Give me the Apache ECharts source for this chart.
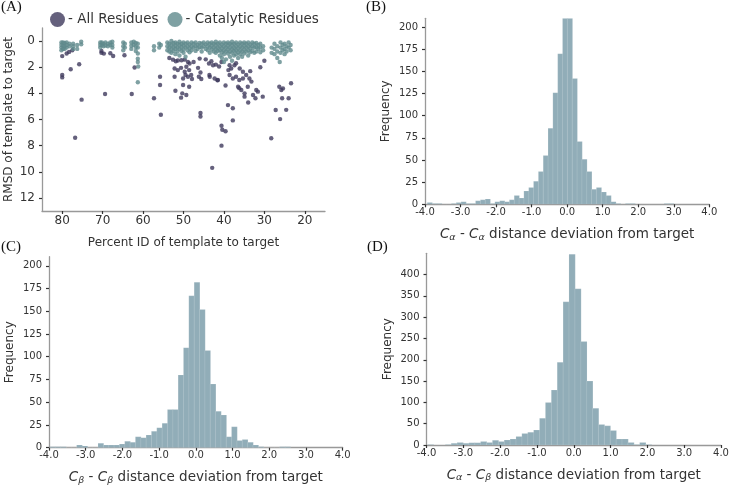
<!DOCTYPE html>
<html><head><meta charset="utf-8">
<script src="https://cdn.jsdelivr.net/npm/echarts@6/dist/echarts.min.js"></script>
<style>html,body{margin:0;padding:0;background:#fff}#c{width:729px;height:487px}</style>
</head><body><div id="c"></div>
<script>
// ---------- Panel A data: [percent ID, RMSD] ----------
const allResidues = [
[80.0,1.15],[78.9,0.95],[78.3,0.83],[77.5,0.7],[80.0,2.6],[80.0,2.78],[77.9,2.15],[75.8,1.77],[75.2,4.48],[76.8,7.4],
[70.3,0.75],[70.3,0.9],[69.7,0.96],[68.1,0.93],[67.4,1.14],[69.4,4.05],
[64.6,1.09],[62.8,4.05],[62.1,2.02],
[57.3,4.38],[55.8,2.73],[55.8,3.36],[55.6,5.64],
[52.6,1.42],[51.9,1.54],[51.4,1.49],[50.5,1.47],[49.7,1.42],[48.9,1.6],[48.5,1.72],
[52.2,2.1],[51.4,2.22],[50.6,2.05],[49.7,2.35],[49.3,1.97],[48.6,2.22],
[52.2,2.73],[50.1,2.86],[49.5,2.6],[48.9,2.73],[48.1,2.6],[47.9,2.9],
[52.0,3.8],[50.1,3.36],[48.6,3.49],[50.3,4.0],[49.3,4.12],[50.6,4.33],
[46.4,2.05],[46.2,2.73],[46.0,1.34],[45.8,2.4],[45.6,2.9],
[45.8,5.5],[45.8,5.77],
[43.7,1.72],[43.1,1.54],[42.7,1.85],[43.5,2.73],[42.3,2.86],[41.5,2.98],[40.6,1.6],[39.6,3.4],[43.6,2.6],[41.6,3.0],[42.0,1.8],[41.2,1.95],
[38.2,2.1],[37.4,1.85],[36.1,2.1],[35.3,2.35],[38.6,2.6],[37.8,2.86],[37.0,2.73],[36.2,2.98],[35.3,2.86],[34.5,2.6],[33.7,2.86],[33.2,3.1],
[36.5,3.49],[35.7,3.74],[34.9,4.0],[34.1,3.49],[32.8,4.12],[32.2,4.38],[31.6,3.87],[30.4,4.25],[34.0,4.7],[38.9,2.22],[36.2,3.6],[32.0,3.74],[34.9,4.25],[38.6,1.85],[37.0,1.7],[33.5,2.3],
[39.0,4.9],[37.8,5.14],[37.8,6.07],[40.6,6.48],[40.4,6.78],[39.6,6.9],[40.6,8.0],[42.9,9.7],
[28.3,7.44],[27.2,5.27],[26.1,5.97],[24.6,5.26],
[26.3,3.49],[25.8,3.74],[25.4,3.62],[25.6,4.38],[24.0,4.38],[23.4,3.23],
[53.5,1.3],[47.5,1.6],[44.5,1.4],[31.0,2.0],[30.0,1.5]
];
const catalyticResidues = [
[80.2,0.1],[80.2,0.3],[80.2,0.5],[80.2,0.7],[79.8,0.1],[79.8,0.35],[79.8,0.6],[79.4,0.15],[79.4,0.4],[79.4,0.6],[78.9,0.1],[78.9,0.3],[78.9,0.5],[78.2,0.2],[78.2,0.4],[77.3,0.2],[77.3,0.4],[77.3,0.6],[76.3,0.3],[76.3,0.6],[75.3,0.05],[75.3,0.25],
[70.6,0.1],[70.6,0.3],[70.6,0.5],[70.2,0.1],[70.2,0.3],[69.8,0.2],[69.8,0.4],[69.3,0.1],[69.3,0.35],[68.7,0.2],[68.7,0.4],[68.1,0.1],[68.1,0.3],[67.6,0.05],[67.6,0.3],[67.6,0.5],
[64.9,0.1],[64.9,0.4],[64.9,0.7],[64.5,0.2],[64.5,0.5],
[62.9,0.1],[62.9,0.35],[62.9,0.6],[62.3,0.05],[62.3,0.3],[61.8,0.15],[61.8,0.45],[61.8,0.75],[61.3,0.2],[61.3,0.5],[61.3,0.95],[61.3,1.35],[61.3,1.6],[61.2,1.95],[61.3,3.15],
[57.3,0.4],[57.3,0.7],[56.0,0.2],[56.0,0.5],[55.6,0.3],
[54.0,0.1],[54.0,0.4],[54.0,0.7],[53.5,0.2],[53.5,0.5],[53.5,0.8],[53.0,0.0],[53.0,0.3],[53.0,0.6],[53.0,0.9],
[52.5,0.15],[52.5,0.45],[52.5,0.75],[52.0,0.1],[52.0,0.35],[52.0,0.6],[52.0,1.0],[51.5,0.2],[51.5,0.5],[51.5,0.8],
[51.0,0.05],[51.0,0.3],[51.0,0.6],[51.0,1.1],[50.5,0.2],[50.5,0.45],[50.5,0.75],[50.0,0.1],[50.0,0.35],[50.0,0.65],[50.0,0.9],
[49.5,0.2],[49.5,0.5],[49.5,1.2],[49.0,0.1],[49.0,0.4],[49.0,0.7],[48.5,0.25],[48.5,0.55],[48.5,0.85],[48.0,0.1],[48.0,0.4],[48.0,0.7],
[47.5,0.2],[47.5,0.5],[47.0,0.1],[47.0,0.4],[47.0,0.75],[46.5,0.3],[46.5,0.6],[46.0,0.15],[46.0,0.45],[45.5,0.2],[45.5,0.5],[45.5,0.8],
[45.0,0.1],[45.0,0.4],[44.5,0.25],[44.5,0.6],[44.0,0.1],[44.0,0.4],[44.0,0.7],[43.5,0.2],[43.5,0.5],[43.5,0.9],[43.0,0.1],[43.0,0.35],[43.0,0.65],
[42.5,0.2],[42.5,0.5],[42.5,0.8],[42.0,0.05],[42.0,0.3],[42.0,0.6],[42.0,0.9],[41.5,0.2],[41.5,0.5],[41.5,0.75],
[41.0,0.1],[41.0,0.4],[41.0,0.7],[41.0,1.1],[40.5,0.25],[40.5,0.55],[40.5,0.85],[40.5,1.3],[40.0,0.1],[40.0,0.4],[40.0,0.7],[40.0,1.0],[40.0,1.6],
[39.5,0.2],[39.5,0.5],[39.5,0.8],[39.5,1.4],[39.0,0.1],[39.0,0.35],[39.0,0.65],[39.0,0.95],[38.5,0.2],[38.5,0.5],[38.5,0.8],[38.5,1.2],
[38.0,0.05],[38.0,0.3],[38.0,0.6],[38.0,0.9],[38.0,1.5],[37.5,0.2],[37.5,0.5],[37.5,0.75],[37.5,1.1],[37.0,0.1],[37.0,0.4],[37.0,0.7],[37.0,1.0],
[36.5,0.25],[36.5,0.55],[36.5,0.85],[36.5,1.3],[36.0,0.1],[36.0,0.4],[36.0,0.7],[36.0,1.0],[35.5,0.2],[35.5,0.5],[35.5,0.8],[35.5,1.2],
[35.0,0.1],[35.0,0.35],[35.0,0.65],[35.0,0.95],[34.5,0.2],[34.5,0.5],[34.5,0.8],[34.0,0.1],[34.0,0.4],[34.0,0.7],[34.0,1.1],
[33.5,0.25],[33.5,0.55],[33.5,0.85],[33.0,0.1],[33.0,0.4],[33.0,0.75],[32.5,0.2],[32.5,0.5],[32.5,0.9],[32.0,0.15],[32.0,0.45],[32.0,0.8],
[31.5,0.3],[31.5,0.6],[31.0,0.2],[31.0,0.5],[31.0,0.85],[30.3,0.4],[30.3,0.7],
[28.2,0.5],[28.2,0.9],[27.5,0.2],[27.5,0.6],[27.5,1.0],[26.8,0.4],[26.8,0.8],[26.8,1.3],[26.0,0.1],[26.0,0.5],[26.0,0.9],[25.5,0.3],[25.5,0.7],
[25.0,0.2],[25.0,0.6],[25.0,1.0],[24.5,0.4],[24.5,0.8],[24.0,0.1],[24.0,0.5],[23.5,0.3],[23.5,0.7],[26.2,1.6]
];
const pidTicks = [80,70,60,50,40,30,20];
const rmsdTicks = [0,2,4,6,8,10,12];

// ---------- Histogram data ----------
const devTicks = [-4,-3,-2,-1,0,1,2,3,4];
const freqTicksBC = [0,25,50,75,100,125,150,175,200];
const freqTicksD = [0,50,100,150,200,250,300,350,400];

const binStartB = -3.938, binWidthB = 0.136;
const countsB = [2,1,1,0,0,1,2,3,1,1,4,5,6,1,3,4,3,5,10,7,15,19,26,37,55,86,126,170,210,210,142,71,51,37,17,19,14,10,3,1,0,1,1,0,0,0,0,0,0,1,1];

const binStartC = -3.975, binWidthC = 0.1455;
const countsC = [1,1,1,0,0,3,2,0,0,5,3,3,3,4,7,6,12,11,14,18,22,27,42,42,80,110,167,182,152,107,70,40,36,12,23,8,9,6,3,1,0,0,0,1,1];

const binStartD = -3.97, binWidthD = 0.16;
const countsD = [1,0,0,1,4,6,4,5,5,8,6,11,8,12,14,20,27,30,35,63,100,129,194,336,448,367,243,150,86,48,45,34,14,14,6,1,6,1];

const FONT = 'DejaVu Sans';
const TXT = '#333';
const AXC = '#999';

function histData(start, w, counts){
  return counts.map((c,i)=>[start + i*w, start + (i+1)*w, c]);
}
function histRender(params, api){
  const p0 = api.coord([api.value(0), api.value(2)]);
  const p1 = api.coord([api.value(1), 0]);
  return {type:'rect', shape:{x:p0[0], y:p0[1], width:p1[0]-p0[0]+0.4, height:p1[1]-p0[1]},
    style:{fill:'#91adb8', stroke:'rgba(255,255,255,0.25)', lineWidth:0.5}};
}
function axisBase(extra){
  return Object.assign({
    type:'value',
    splitLine:{show:false},
    axisLine:{show:true, onZero:false, lineStyle:{color:AXC, width:1.3}},
    axisTick:{show:true, length:3, lineStyle:{color:'#333', width:1.2}},
    axisLabel:{color:TXT, fontFamily:FONT, fontSize:10},
    nameTextStyle:{color:TXT, fontFamily:FONT, fontSize:13},
    nameLocation:'middle'
  }, extra);
}
const devName = (a,b) => '{c|C}{s|' + a + '} - {c|C}{s|' + b + '} distance deviation from target';
const richName = {
  c:{fontStyle:'italic', fontFamily:FONT, fontSize:13.5, color:TXT},
  s:{fontStyle:'italic', fontFamily:FONT, fontSize:9.5, color:TXT, padding:[6,0,0,0]}
};
function devX(gridIndex, name){
  return axisBase({gridIndex, min:-4, max:4, name,
    nameGap:22,
    nameTextStyle:{color:TXT, fontFamily:FONT, fontSize:13.5, rich:richName},
    axisTick:{show:true, length:3, lineStyle:{color:'#333', width:1.2}, customValues:devTicks},
    axisLabel:{color:TXT, fontFamily:FONT, fontSize:10, margin:3, customValues:devTicks, formatter:v=>v.toFixed(1)}});
}
function freqY(gridIndex, max, ticks){
  return axisBase({gridIndex, min:0, max, name:'Frequency', nameGap:33,
    nameTextStyle:{color:TXT, fontFamily:FONT, fontSize:12},
    axisTick:{show:true, length:3, lineStyle:{color:'#333', width:1.2}, customValues:ticks},
    axisLabel:{color:TXT, fontFamily:FONT, fontSize:10, margin:7, customValues:ticks}});
}

const chart = echarts.init(document.getElementById('c'), null, {renderer:'canvas'});
chart.setOption({
  animation:false,
  backgroundColor:'#fff',
  textStyle:{fontFamily:FONT},
  legend:{
    data:['- All Residues','- Catalytic Residues'],
    left:45, top:7, icon:'circle', itemWidth:15, itemHeight:15, itemGap:9,
    textStyle:{color:TXT, fontFamily:FONT, fontSize:13.5, padding:[0,0,0,-2]}
  },
  grid:[
    {left:42, top:28, width:283, height:183, containLabel:false, outerBoundsMode:'none'},
    {left:425, top:18.3, width:284.3, height:186, containLabel:false, outerBoundsMode:'none'},
    {left:49, top:256.7, width:293.7, height:191, containLabel:false, outerBoundsMode:'none'},
    {left:426.5, top:253.3, width:294.5, height:191.7, containLabel:false, outerBoundsMode:'none'}
  ],
  xAxis:[
    axisBase({gridIndex:0, min:15, max:85, inverse:true, name:'Percent ID of template to target', nameGap:26,
      nameTextStyle:{color:TXT, fontFamily:FONT, fontSize:12},
      axisTick:{show:true, length:3, lineStyle:{color:'#333', width:1.2}, customValues:pidTicks},
      axisLabel:{color:TXT, fontFamily:FONT, fontSize:12, margin:4, customValues:pidTicks}}),
    devX(1, devName('α','α')),
    devX(2, devName('β','β')),
    devX(3, devName('α','β'))
  ],
  yAxis:[
    axisBase({gridIndex:0, min:-1, max:13, inverse:true, name:'RMSD of template to target', nameGap:27,
      nameTextStyle:{color:TXT, fontFamily:FONT, fontSize:12},
      axisTick:{show:true, length:3, lineStyle:{color:'#333', width:1.2}, customValues:rmsdTicks},
      axisLabel:{color:TXT, fontFamily:FONT, fontSize:12, margin:7, customValues:rmsdTicks}}),
    freqY(1, 210, freqTicksBC),
    freqY(2, 210, freqTicksBC),
    freqY(3, 450, freqTicksD)
  ],
  series:[
    {name:'- All Residues', type:'scatter', xAxisIndex:0, yAxisIndex:0, data:allResidues,
      symbol:'circle', symbolSize:4.4, itemStyle:{color:'#3f3a5c'}},
    {name:'- Catalytic Residues', type:'scatter', xAxisIndex:0, yAxisIndex:0, data:catalyticResidues,
      symbol:'circle', symbolSize:4.4, itemStyle:{color:'#5f8a8c'}},
    {type:'custom', xAxisIndex:1, yAxisIndex:1, renderItem:histRender, clip:true,
      encode:{x:[0,1], y:2}, data:histData(binStartB, binWidthB, countsB)},
    {type:'custom', xAxisIndex:2, yAxisIndex:2, renderItem:histRender, clip:true,
      encode:{x:[0,1], y:2}, data:histData(binStartC, binWidthC, countsC)},
    {type:'custom', xAxisIndex:3, yAxisIndex:3, renderItem:histRender, clip:true,
      encode:{x:[0,1], y:2}, data:histData(binStartD, binWidthD, countsD)}
  ],
  graphic:[
    {type:'text', left:1, top:0, style:{text:'(A)', font:'15px "Liberation Serif"', fill:'#111'}},
    {type:'text', left:366, top:0, style:{text:'(B)', font:'15px "Liberation Serif"', fill:'#111'}},
    {type:'text', left:1, top:240, style:{text:'(C)', font:'15px "Liberation Serif"', fill:'#111'}},
    {type:'text', left:367, top:240, style:{text:'(D)', font:'15px "Liberation Serif"', fill:'#111'}}
  ]
});
</script>
</body></html>
